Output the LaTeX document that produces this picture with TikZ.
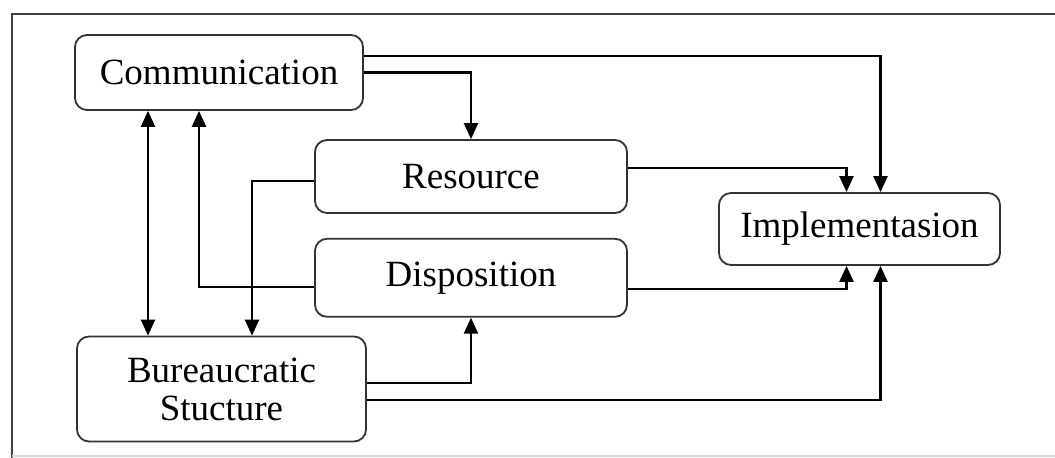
\documentclass[tikz,border=0pt]{standalone}
\usepackage{fontspec}
\setmainfont{Liberation Serif}
\usetikzlibrary{arrows.meta,positioning}
\tikzset{
    box/.style={draw=black!80, line width=0.9pt, rounded corners=6pt, align=center, inner sep=0pt, font=\fontsize{18.5}{19}\selectfont},
    flow/.style={-{Triangle[length=8pt, width=7pt]}, line width=1.2pt},
    twoway/.style={{Triangle[length=8pt, width=7pt]}-{Triangle[length=8pt, width=7pt]}, line width=1.2pt}
}

\begin{document}
\begin{tikzpicture}[x=0.5pt, y=-0.5pt]
\useasboundingbox (0,0) rectangle (1055,458);
% outer frame
\draw[black!75, line width=1pt] (12,458) -- (12,14) -- (1055,14);
\draw[black!15, line width=0.8pt] (12,456) -- (1055,456);

\node[box, minimum width=144pt, minimum height=37.5pt] (comm) at (219,72.5) {Communication};
\node[box, minimum width=156pt, minimum height=36.5pt] (res) at (471,176.5) {Resource};
\node[box, minimum width=156pt, minimum height=39pt, below=12pt of res] (dis) {Disposition};
\node[box, minimum width=144.5pt, minimum height=52.5pt] (bur) at (221.5,389) {Bureaucratic\\Stucture};
\node[box, minimum width=140.5pt, minimum height=36pt] (impl) at (859.5,229) {Implementasion};

% into Implementasion
\draw[flow] ([yshift=8.25pt]comm.east) -| ([xshift=10.5pt]impl.north);
\draw[flow] ([yshift=4.25pt]res.east) -| ([xshift=-6.5pt]impl.north);
\draw[flow] ([yshift=-5.5pt]dis.east) -| ([xshift=-6.5pt]impl.south);
\draw[flow] ([yshift=-5.5pt]bur.east) -| ([xshift=10.5pt]impl.south);

% between the factors
\draw[flow] (comm.east) -| (res.north);
\draw[flow] ([yshift=3pt]bur.east) -| (dis.south);
\draw[flow] ([yshift=-4.5pt]dis.west) -| ([xshift=-10pt]comm.south);
\draw[flow] ([yshift=-2.25pt]res.west) -| ([xshift=15.25pt]bur.north);
\draw[twoway] ([xshift=-35.5pt]comm.south) -- ([xshift=-35.5pt]comm.south |- bur.north);
\end{tikzpicture}
\end{document}
